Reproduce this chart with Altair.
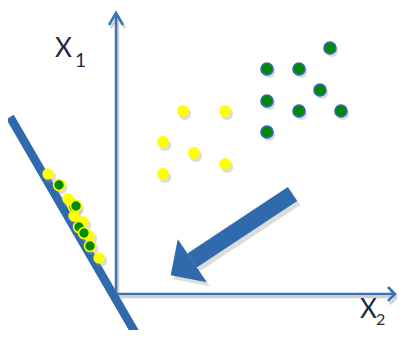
import altair as alt
import pandas as pd

# Coordinates: x = X2 (horizontal), y = X1 (vertical), origin at the axes' corner
green_x = [214, 151, 183, 204, 151, 183, 225, 151]
green_y = [246, 225, 225, 204, 193, 183, 183, 162]
yellow_x = [67, 109, 47, 78, 109, 47]
yellow_y = [183, 183, 152, 141, 130, 120]
proj_yellow_x = [-68, -48, -42, -33, -27, -17]
proj_yellow_y = [120, 95, 78, 72, 58, 36]
proj_green_x = [-57, -42, -40, -37, -32, -26]
proj_green_y = [109, 87, 88, 67, 61, 48]

proj_line_x = [-106, 20]
proj_line_y = [177, -40]

axis_seg = ["v", "v", "h", "h", "vh", "vh", "vh", "hh", "hh", "hh"]
axis_x = [0, 0, 0, 279, -7, 0, 7, 272, 279, 272]
axis_y = [0, 281, 0, 0, 269, 281, 269, 7, 0, -7]

arrow_shaft_x = [176.5, 76]
arrow_shaft_y = [100, 33.5]
arrow_head_x = [65.5]
arrow_head_y = [26]

labels = ["X", "1", "X", "2"]
label_x = [-61, -41, 244, 260]
label_y = [237, 227, -24, -31]
label_size = [26, 19, 26, 16]

BLUE = "#2E6AAC"
AXBLUE = "#3A72B8"
SHADOW = "#9a9a9a"

xs = alt.Scale(domain=[-108, 281], nice=False, zero=False)
ys = alt.Scale(domain=[-36, 286], nice=False, zero=False)

def X():
    return alt.X("x:Q", scale=xs, axis=None)

def Y():
    return alt.Y("y:Q", scale=ys, axis=None)

green = pd.DataFrame({"x": green_x, "y": green_y})
yellow = pd.DataFrame({"x": yellow_x, "y": yellow_y})
pyel = pd.DataFrame({"x": proj_yellow_x, "y": proj_yellow_y})
pgrn = pd.DataFrame({"x": proj_green_x, "y": proj_green_y})
pline = pd.DataFrame({"x": proj_line_x, "y": proj_line_y, "o": [0, 1]})
axes = pd.DataFrame({"x": axis_x, "y": axis_y, "seg": axis_seg, "o": list(range(len(axis_x)))})
shaft = pd.DataFrame({"x": arrow_shaft_x, "y": arrow_shaft_y, "o": [0, 1]})
head = pd.DataFrame({"x": arrow_head_x, "y": arrow_head_y})
lab = pd.DataFrame({"x": label_x, "y": label_y, "t": labels, "s": label_size})

layers = []

# axes shadow and axes
layers.append(alt.Chart(axes).mark_line(color="#cfcfcf", strokeWidth=2.5, xOffset=2, yOffset=3)
              .encode(x=X(), y=Y(), detail="seg:N", order="o:Q"))
layers.append(alt.Chart(axes).mark_line(color=AXBLUE, strokeWidth=2.5)
              .encode(x=X(), y=Y(), detail="seg:N", order="o:Q"))

# projection line
layers.append(alt.Chart(pline).mark_line(color="#bdbdbd", strokeWidth=8.5, xOffset=2, yOffset=3, opacity=0.6)
              .encode(x=X(), y=Y(), order="o:Q"))
layers.append(alt.Chart(pline).mark_line(color=BLUE, strokeWidth=8.5)
              .encode(x=X(), y=Y(), order="o:Q"))

# big arrow (shadow + arrow)
head_shape = "M0,-0.5L1,0.5L-1,0.5Z"
layers.append(alt.Chart(shaft).mark_line(color="#c4c4c4", strokeWidth=17, strokeCap="butt", xOffset=3, yOffset=4, opacity=0.6)
              .encode(x=X(), y=Y(), order="o:Q"))
layers.append(alt.Chart(head).mark_point(shape=head_shape, size=2704, angle=236, filled=True,
                                         color="#c4c4c4", opacity=0.6, xOffset=3, yOffset=4)
              .encode(x=X(), y=Y()))
layers.append(alt.Chart(shaft).mark_line(color=BLUE, strokeWidth=17, strokeCap="butt")
              .encode(x=X(), y=Y(), order="o:Q"))
layers.append(alt.Chart(head).mark_point(shape=head_shape, size=2704, angle=236, filled=True,
                                         color=BLUE, opacity=1)
              .encode(x=X(), y=Y()))

# point shadows
for df in (green, yellow, pyel, pgrn):
    layers.append(alt.Chart(df).mark_circle(size=150, color=SHADOW, opacity=0.35, xOffset=2, yOffset=3)
                  .encode(x=X(), y=Y()))

# points
layers.append(alt.Chart(yellow).mark_circle(size=140, color="#FFFF00", opacity=1)
              .encode(x=X(), y=Y()))
layers.append(alt.Chart(green).mark_point(size=140, filled=True, fill="#008A00", stroke=BLUE,
                                          strokeWidth=1.8, opacity=1, shape="circle")
              .encode(x=X(), y=Y()))
layers.append(alt.Chart(pyel).mark_circle(size=130, color="#FFFF00", opacity=1)
              .encode(x=X(), y=Y()))
layers.append(alt.Chart(pgrn).mark_point(size=120, filled=True, fill="#008A00", stroke="#FFFF00",
                                         strokeWidth=1.6, opacity=1, shape="circle")
              .encode(x=X(), y=Y()))

# labels
layers.append(alt.Chart(lab).mark_text(align="left", baseline="alphabetic", font="Lato", color="#1c2a44")
              .encode(x=X(), y=Y(), text="t:N", size=alt.Size("s:Q", scale=None, legend=None)))

chart = alt.layer(*layers).properties(
    width=389, height=322, padding=0, autosize=alt.AutoSizeParams(type="none")
).configure_view(stroke=None)

chart.save("out.html", embed_options={"renderer": "svg", "actions": False})
